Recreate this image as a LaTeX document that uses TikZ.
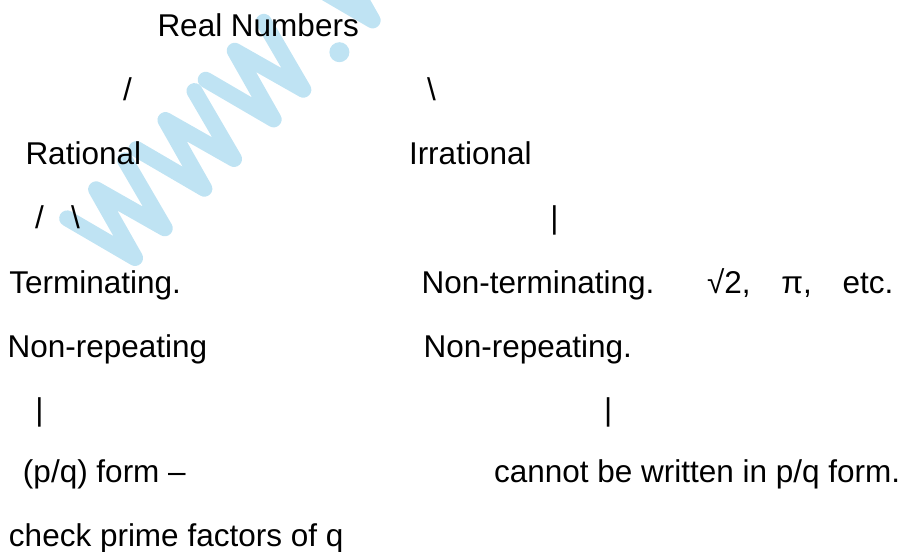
\documentclass[tikz,border=0pt]{standalone}
\usepackage{fontspec}
\setmainfont{Liberation Sans}
\definecolor{wm}{RGB}{191,227,243}
\begin{document}
\begin{tikzpicture}[x=1pt,y=-1pt,
  lbl/.style={anchor=base west, inner sep=0pt, outer sep=0pt, font=\fontsize{31.5}{38}\selectfont, text=black},
  wmline/.style={draw=wm, line width=16pt, line cap=round, line join=round}]
\useasboundingbox (0,0) rectangle (906,552);
% watermark
\begin{scope}
  \clip (0,0) rectangle (906,552);
  \begin{scope}[shift={(120.9,272.1)}, rotate=45]
    \foreach \i in {0,1,2}
      \draw[wmline] ({\i*98},-76) -- ({\i*98+20},0) -- ({\i*98+41},-76) -- ({\i*98+62},0) -- ({\i*98+82},-76);
    \fill[wm] (310,-1) circle (10);
    \draw[wmline] (336,-76) -- (356,0) -- (377,-76);
  \end{scope}
\end{scope}
% texts
\node[lbl] (real) at (157.5,36) {Real Numbers};
\node[lbl] (s1) at (123,100) {/};
\node[lbl] (b1) at (427,100) {\textbackslash};
\node[lbl] (rat) at (25.5,164) {Rational};
\node[lbl] (irr) at (409,164) {Irrational};
\node[lbl] (s2) at (35,228) {/};
\node[lbl] (b2) at (71,228) {\textbackslash};
\node[lbl] (v1) at (550.4,228) {|};
\node[lbl] (term) at (9.3,293) {Terminating.};
\node[lbl] (nterm) at (421.6,293) {Non-terminating.};
\node[lbl] (ex) at (707,293) {√2,\hspace{22pt} π,\hspace{22pt} etc.};
\node[lbl] (nrep1) at (7.6,357) {Non-repeating};
\node[lbl] (nrep2) at (423.6,357) {Non-repeating.};
\node[lbl] (v2) at (35.4,420) {|};
\node[lbl] (v3) at (604,420) {|};
\node[lbl] (pq) at (23,482) {(p/q) form –};
\node[lbl] (cannot) at (494,482) {cannot be written in p/q form.};
\node[lbl] (check) at (9,546) {check prime factors of q};
\end{tikzpicture}
\end{document}
